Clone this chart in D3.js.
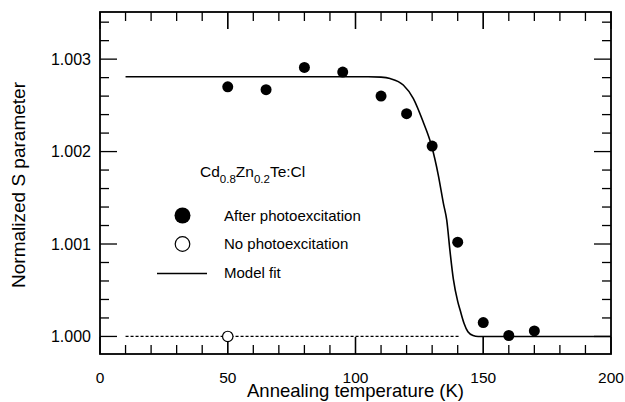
<!DOCTYPE html>
<html>
<head>
<meta charset="utf-8">
<script src="https://cdn.jsdelivr.net/npm/d3@7"></script>
<style>
  body { margin: 0; background: #fff; }
  text { font-family: "Liberation Sans", Arial, sans-serif; fill: #000; }
</style>
</head>
<body>
<svg id="mainsvg" width="625" height="402"></svg>
<script>
// data
const afterT = [50, 65, 80, 95, 110, 120, 130, 140, 150, 160, 170];
const afterS = [1.00270, 1.00267, 1.00291, 1.00286, 1.00260, 1.00241, 1.00206, 1.00102, 1.00015, 1.00001, 1.00006];
const noT = [50];
const noS = [1.0000];
const fitT = [10, 105, 110, 113.5, 118.7, 122.6, 126.5, 129.8, 132.4, 134.4, 135.7, 137, 138.3, 140, 141, 142.5, 144, 146, 148, 200];
const fitS = [1.00281, 1.00281, 1.002805, 1.00279, 1.00272, 1.002576, 1.00232, 1.00206, 1.001746, 1.00144, 1.00126, 1.00092, 1.00062, 1.00038, 1.00028, 1.00014, 1.00005, 1.00001, 1.0, 1.0];
const baseT = [10, 141];
const baseS = [1.0, 1.0];
const xTicks = [0, 50, 100, 150, 200];
const yTicks = [1.000, 1.001, 1.002, 1.003];
const xMinor = d3.range(10, 200, 10);
const yMinor = d3.range(1, 18).map(i => 1 + i * 0.0002);

const svg = d3.select('#mainsvg');
const margin = {top: 12, right: 14, bottom: 48, left: 100};
const width = +svg.attr('width');
const height = +svg.attr('height');
const innerWidth = width - margin.left - margin.right;
const innerHeight = height - margin.top - margin.bottom;

const g = svg.append('g')
  .attr('transform', `translate(${margin.left}, ${margin.top})`);

const xScale = d3.scaleLinear().domain([0, 200]).range([0, innerWidth]);
const yScale = d3.scaleLinear().domain([0.99981, 1.00351]).range([innerHeight, 0]);

// ticks on all four sides, pointing inward
const tickLine = (x1, y1, x2, y2) => g.append('line')
  .attr('x1', x1).attr('y1', y1).attr('x2', x2).attr('y2', y2)
  .attr('stroke', '#000').attr('stroke-width', 1.3);

const majorLen = 17, minorLen = 9;
xMinor.concat(xTicks).forEach(t => {
  const len = xTicks.includes(t) ? majorLen : minorLen;
  const x = xScale(t);
  tickLine(x, innerHeight, x, innerHeight - len);
  tickLine(x, 0, x, len);
});
yMinor.forEach(v => {
  const major = yTicks.some(t => Math.abs(t - v) < 1e-9);
  const len = major ? majorLen : minorLen;
  const y = yScale(v);
  tickLine(0, y, len, y);
  tickLine(innerWidth, y, innerWidth - len, y);
});
tickLine(0, yScale(1.0), majorLen, yScale(1.0));
tickLine(innerWidth, yScale(1.0), innerWidth - majorLen, yScale(1.0));

// frame
g.append('rect')
  .attr('width', innerWidth)
  .attr('height', innerHeight)
  .attr('fill', 'none')
  .attr('stroke', '#000')
  .attr('stroke-width', 1.8);

// tick labels
g.selectAll('.xlab').data(xTicks).join('text')
  .attr('class', 'xlab')
  .attr('x', d => xScale(d))
  .attr('y', innerHeight + 29)
  .attr('text-anchor', 'middle')
  .attr('font-size', '15.5px')
  .text(d => d);

g.selectAll('.ylab').data(yTicks).join('text')
  .attr('class', 'ylab')
  .attr('x', -9)
  .attr('y', d => yScale(d))
  .attr('dy', '0.36em')
  .attr('text-anchor', 'end')
  .attr('font-size', '16px')
  .text(d => d3.format('.3f')(d));

// axis titles
g.append('text')
  .attr('x', innerWidth / 2)
  .attr('y', innerHeight + 43)
  .attr('text-anchor', 'middle')
  .attr('font-size', '18.5px')
  .text('Annealing temperature (K)');

g.append('text')
  .attr('transform', 'rotate(-90)')
  .attr('x', -(185 - margin.top))
  .attr('y', -75)
  .attr('text-anchor', 'middle')
  .attr('font-size', '19px')
  .text('Normalized S parameter');

// dotted baseline (no photoexcitation)
const line = d3.line().x(d => xScale(d[0])).y(d => yScale(d[1]));
g.append('path')
  .attr('d', line(d3.zip(baseT, baseS)))
  .attr('fill', 'none')
  .attr('stroke', '#000')
  .attr('stroke-width', 1.2)
  .attr('stroke-dasharray', '3,2');

// model fit
const fitLine = d3.line().curve(d3.curveMonotoneX)
  .x(d => xScale(d[0])).y(d => yScale(d[1]));
g.append('path')
  .attr('d', fitLine(d3.zip(fitT, fitS)))
  .attr('fill', 'none')
  .attr('stroke', '#000')
  .attr('stroke-width', 1.6);

// points
g.selectAll('.after').data(d3.zip(afterT, afterS)).join('circle')
  .attr('class', 'after')
  .attr('cx', d => xScale(d[0]))
  .attr('cy', d => yScale(d[1]))
  .attr('r', 5.5)
  .attr('fill', '#000');

g.selectAll('.noexc').data(d3.zip(noT, noS)).join('circle')
  .attr('class', 'noexc')
  .attr('cx', d => xScale(d[0]))
  .attr('cy', d => yScale(d[1]))
  .attr('r', 5.2)
  .attr('fill', '#fff')
  .attr('stroke', '#000')
  .attr('stroke-width', 1.2);

// legend
const lg = svg.append('g');
const title = lg.append('text')
  .attr('x', 200)
  .attr('y', 177)
  .attr('font-size', '15.5px');
title.append('tspan').text('Cd');
title.append('tspan').attr('dy', 6).attr('font-size', '11.5px').text('0.8');
title.append('tspan').attr('dy', -6).text('Zn');
title.append('tspan').attr('dy', 6).attr('font-size', '11.5px').text('0.2');
title.append('tspan').attr('dy', -6).text('Te:Cl');

lg.append('circle').attr('cx', 182.5).attr('cy', 215.5).attr('r', 8).attr('fill', '#000');
lg.append('circle').attr('cx', 182.5).attr('cy', 244).attr('r', 7.3)
  .attr('fill', '#fff').attr('stroke', '#000').attr('stroke-width', 1.2);
lg.append('line').attr('x1', 157).attr('x2', 207).attr('y1', 273.5).attr('y2', 273.5)
  .attr('stroke', '#000').attr('stroke-width', 1.5);

const legendText = ['After photoexcitation', 'No photoexcitation', 'Model fit'];
lg.selectAll('.ltxt').data(legendText).join('text')
  .attr('class', 'ltxt')
  .attr('x', 224)
  .attr('y', (d, i) => [220.5, 249, 278][i])
  .attr('font-size', '15px')
  .text(d => d);
</script>
</body>
</html>
